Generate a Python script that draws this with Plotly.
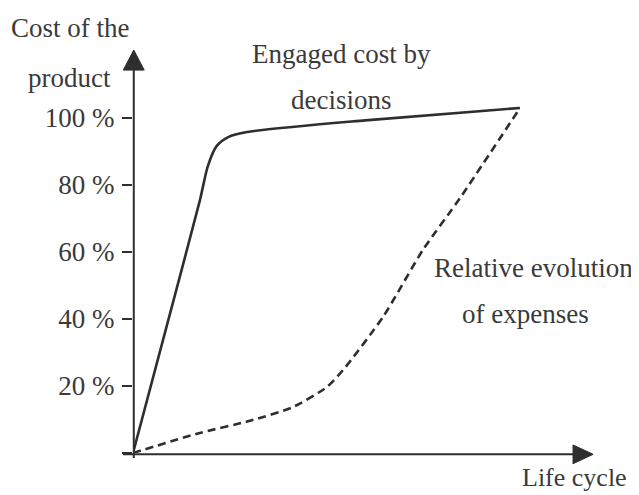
import plotly.graph_objects as go

# Data (life cycle position 0..100, cost %)
engaged_x = [0, 8.5, 17.3, 19.3, 21.6, 24.6, 29.5, 60, 100]
engaged_y = [0, 37, 75.5, 85.5, 91.6, 94.3, 95.8, 99.3, 103]

expense_x = [0, 17.3, 30.2, 41.3, 50.1, 54.3, 64.6, 74.9, 84.5, 100]
expense_y = [0, 6.0, 9.6, 13.7, 19.7, 24.8, 40.6, 60.6, 76.1, 103]

tick_vals = [0, 20, 40, 60, 80, 100]
tick_text = ["", "20 %", "40 %", "60 %", "80 %", "100 %"]

FONT = "Liberation Serif, Times New Roman, serif"
INK = "#2e2e2e"
TXT = "#3a3a3a"
XR = 120.67
YR = 123.28


def X(v):
    return v / XR


def Y(v):
    return v / YR


fig = go.Figure()
fig.add_trace(go.Scatter(x=engaged_x, y=engaged_y, mode="lines",
                         line=dict(color=INK, width=2.6, shape="spline", smoothing=0.7),
                         hoverinfo="skip", showlegend=False, cliponaxis=False))
fig.add_trace(go.Scatter(x=expense_x, y=expense_y, mode="lines",
                         line=dict(color=INK, width=2.6, dash="8px,5px", shape="spline", smoothing=0.6),
                         hoverinfo="skip", showlegend=False, cliponaxis=False))

shapes = [
    # y axis
    dict(type="line", xref="paper", yref="paper", x0=X(0.2), x1=X(0.2), y0=Y(-1.5), y1=Y(115),
         line=dict(color=INK, width=2)),
    dict(type="path", xref="paper", yref="paper",
         path=f"M {X(-2.5)} {Y(114.3)} L {X(2.9)} {Y(114.3)} L {X(0.2)} {Y(120.3)} Z",
         fillcolor=INK, line=dict(color=INK, width=1)),
    # x axis
    dict(type="line", xref="paper", yref="paper", x0=X(-2.6), x1=X(114), y0=Y(-0.4), y1=Y(-0.4),
         line=dict(color=INK, width=2)),
    dict(type="path", xref="paper", yref="paper",
         path=f"M {X(113.7)} {Y(2.4)} L {X(113.7)} {Y(-3.2)} L {X(118.9)} {Y(-0.4)} Z",
         fillcolor=INK, line=dict(color=INK, width=1)),
]


def ann(text, x, y, size=27):
    return dict(text=text, x=X(x), y=Y(y), xref="paper", yref="paper", showarrow=False,
                xanchor="center", yanchor="middle",
                font=dict(family=FONT, size=size, color=TXT))


annotations = [
    ann("Cost of the", -16.1, 126.9),
    ann("product", -16.3, 111.9),
    ann("Engaged cost by", 53.9, 119.1),
    ann("decisions", 53.9, 105.4),
    ann("Relative evolution", 103.4, 55.2),
    ann("of expenses", 101.3, 41.5),
    ann("Life cycle", 114.2, -7.2, size=26),
]

fig.update_layout(
    width=631, height=487,
    margin=dict(l=125, r=39, t=32, b=42),
    paper_bgcolor="white", plot_bgcolor="white",
    shapes=shapes, annotations=annotations,
    xaxis=dict(range=[0, XR], showgrid=False, zeroline=False, showline=False,
               showticklabels=False, ticks=""),
    yaxis=dict(range=[0, YR], showgrid=False, zeroline=False, showline=False,
               tickvals=tick_vals, ticktext=tick_text, ticks="outside", ticklen=10,
               tickwidth=1.5, tickcolor=INK, ticklabelstandoff=2,
               tickfont=dict(family=FONT, size=27, color=TXT)),
)

fig.write_html("out.html")
